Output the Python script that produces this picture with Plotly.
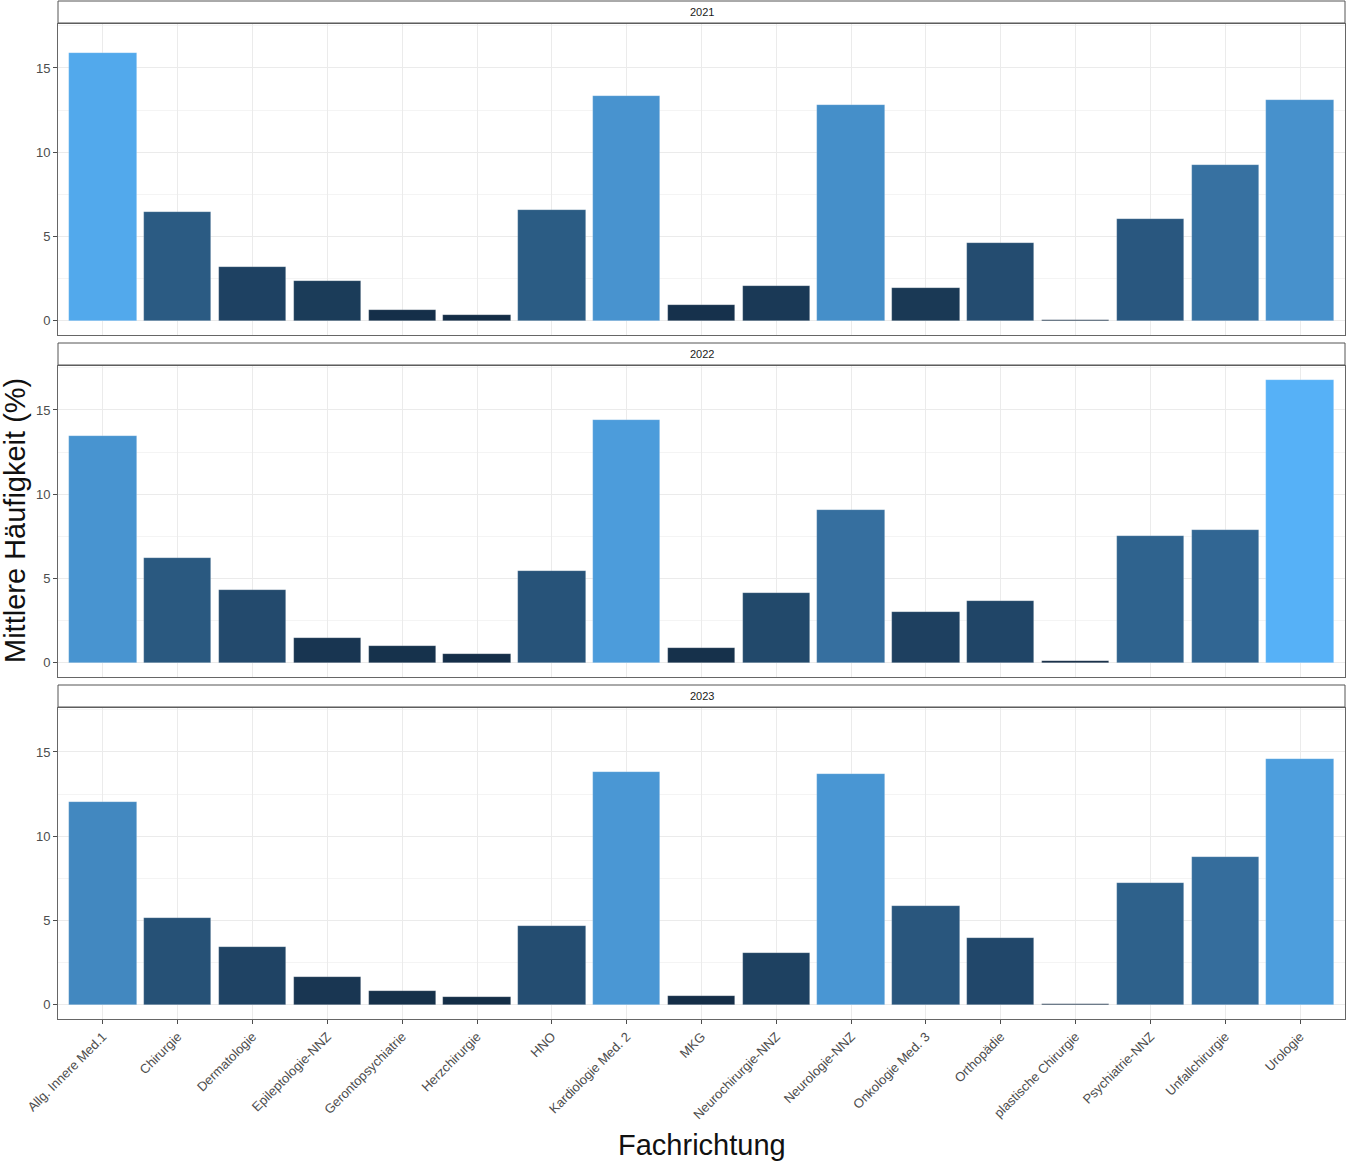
import plotly.graph_objects as go
from plotly.subplots import make_subplots
import numpy as np

categories = ["Allg. Innere Med.1", "Chirurgie", "Dermatologie", "Epileptologie-NNZ",
              "Gerontopsychiatrie", "Herzchirurgie", "HNO", "Kardiologie Med. 2", "MKG",
              "Neurochirurgie-NNZ", "Neurologie-NNZ", "Onkologie Med. 3", "Orthopädie",
              "plastische Chirurgie", "Psychiatrie-NNZ", "Unfallchirurgie", "Urologie"]
years = ["2021", "2022", "2023"]
values_2021 = [15.89, 6.44, 3.19, 2.36, 0.65, 0.35, 6.56, 13.35, 0.95, 2.07, 12.82, 1.95, 4.61, 0.06, 6.02, 9.27, 13.11]
values_2022 = [13.47, 6.20, 4.31, 1.48, 1.00, 0.53, 5.43, 14.41, 0.89, 4.13, 9.04, 3.01, 3.66, 0.12, 7.50, 7.91, 16.77]
values_2023 = [12.05, 5.14, 3.43, 1.65, 0.83, 0.47, 4.67, 13.82, 0.53, 3.07, 13.70, 5.85, 3.96, 0.06, 7.20, 8.80, 14.59]
y_ticks = [0, 5, 10, 15]
series = [values_2021, values_2022, values_2023]

# ggplot-like Lab gradient from #132B43 to #56B1F7
def hex2rgb(h):
    h = h.lstrip("#")
    return np.array([int(h[i:i+2], 16) / 255 for i in (0, 2, 4)])

def srgb2lin(c):
    return np.where(c <= 0.04045, c / 12.92, ((c + 0.055) / 1.055) ** 2.4)

def lin2srgb(c):
    c = np.clip(c, 0, 1)
    return np.where(c <= 0.0031308, c * 12.92, 1.055 * c ** (1 / 2.4) - 0.055)

M = np.array([[0.4124, 0.3576, 0.1805], [0.2126, 0.7152, 0.0722], [0.0193, 0.1192, 0.9505]])
Minv = np.linalg.inv(M)
wp = np.array([0.95047, 1.0, 1.08883])

def f(t):
    return np.where(t > (6 / 29) ** 3, np.cbrt(t), t / (3 * (6 / 29) ** 2) + 4 / 29)

def finv(t):
    return np.where(t > 6 / 29, t ** 3, 3 * (6 / 29) ** 2 * (t - 4 / 29))

def rgb2lab(rgb):
    xyz = M @ srgb2lin(rgb) / wp
    fx, fy, fz = f(xyz)
    return np.array([116 * fy - 16, 500 * (fx - fy), 200 * (fy - fz)])

def lab2hex(lab):
    L, a, b = lab
    fy = (L + 16) / 116
    xyz = np.array([finv(fy + a / 500), finv(fy), finv(fy - b / 200)]) * wp
    rgb = lin2srgb(Minv @ xyz)
    return "#%02x%02x%02x" % tuple(int(round(v * 255)) for v in rgb)

lo, hi = rgb2lab(hex2rgb("#132B43")), rgb2lab(hex2rgb("#56B1F7"))
colorscale = [[t, lab2hex(lo + (hi - lo) * t)] for t in np.linspace(0, 1, 11)]
all_vals = values_2021 + values_2022 + values_2023
cmin, cmax = min(all_vals), max(all_vals)

fig = make_subplots(rows=3, cols=1, shared_xaxes=True)
W, H = 1347, 1163
x0, x1 = 58 / W, 1345 / W
panels = [(24, 335), (366, 677), (708, 1019)]
strips = [(1, 23), (343, 365), (685, 707)]

ymax = max(all_vals)
yr = [-0.05 * ymax, ymax * 1.05]

for i, (yr_lbl, vals) in enumerate(zip(years, series)):
    fig.add_trace(go.Bar(
        x=categories, y=vals, width=0.9,
        marker=dict(color=vals, colorscale=colorscale, cmin=cmin, cmax=cmax,
                    line=dict(width=0.6, color="rgba(255,255,255,0.35)")),
        showlegend=False, hoverinfo="x+y"), row=i + 1, col=1)
    top, bot = panels[i]
    ax = "yaxis" if i == 0 else f"yaxis{i+1}"
    xax = "xaxis" if i == 0 else f"xaxis{i+1}"
    fig.layout[ax].update(domain=[1 - bot / H, 1 - top / H], range=yr, automargin=False,
                          tickvals=y_ticks, ticks="outside", ticklen=4, tickcolor="#4D4D4D",
                          showgrid=True, gridcolor="#EBEBEB", gridwidth=1,
                          minor=dict(dtick=2.5, tick0=0, showgrid=True, gridcolor="#F4F4F4", gridwidth=1, ticks=""),
                          zeroline=False, showline=True, mirror=True, linecolor="#666666", linewidth=1,
                          tickfont=dict(family="Liberation Sans", size=13, color="#4D4D4D"))
    fig.layout[xax].update(domain=[x0, x1], range=[-0.6, len(categories) - 0.4], automargin=False,
                           showgrid=True, gridcolor="#EBEBEB", gridwidth=1, zeroline=False,
                           showline=True, mirror=True, linecolor="#666666", linewidth=1,
                           ticks="outside" if i == 2 else "", ticklen=4, tickcolor="#4D4D4D",
                           showticklabels=(i == 2), tickangle=-45,
                           tickfont=dict(family="Liberation Sans", size=13, color="#4D4D4D"))
    st, sb = strips[i]
    fig.add_shape(type="rect", xref="paper", yref="paper", x0=x0, x1=x1,
                  y0=1 - sb / H, y1=1 - st / H, fillcolor="white",
                  line=dict(color="#555555", width=1))
    fig.add_annotation(text=yr_lbl, xref="paper", yref="paper", x=(x0 + x1) / 2,
                       y=1 - (st + sb) / 2 / H, showarrow=False, xanchor="center", yanchor="middle",
                       font=dict(family="Liberation Sans", size=11, color="#1A1A1A"))

fig.add_annotation(text="Mittlere Häufigkeit (%)", xref="paper", yref="paper",
                   x=15 / W, y=1 - 521 / H, textangle=-90, showarrow=False,
                   xanchor="center", yanchor="middle",
                   font=dict(family="Liberation Sans", size=29, color="#111111"))
fig.add_annotation(text="Fachrichtung", xref="paper", yref="paper",
                   x=(x0 + x1) / 2, y=1 - 1145 / H, showarrow=False,
                   xanchor="center", yanchor="middle",
                   font=dict(family="Liberation Sans", size=29, color="#111111"))

fig.update_layout(width=W, height=H, margin=dict(l=0, r=0, t=0, b=0, autoexpand=False),
                  plot_bgcolor="white", paper_bgcolor="white", bargap=0)
fig.write_html("out.html", config={"displayModeBar": False},
               post_script="document.body.style.margin='0px';document.body.style.overflow='hidden';")
